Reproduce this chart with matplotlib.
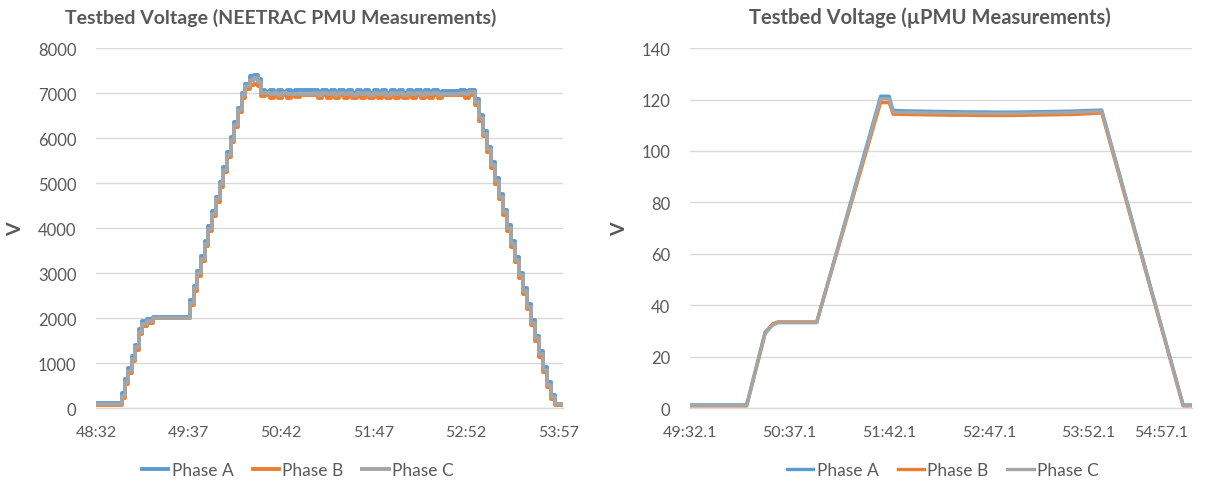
import matplotlib
matplotlib.use('Agg')
from matplotlib import pyplot as plt

plt.rcParams['font.family'] = ['Lato', 'DejaVu Sans']

# NEETRAC PMU: seconds after 48:32, stepped readings
neetrac_t = [0, 18, 20.4, 22.7, 25, 27.4, 30.2, 32.6, 35.6, 40.3,
             66, 68.6, 71.2, 73.8, 76.4, 79, 81.6, 84.2, 86.8, 89.4, 92, 94.6, 97.2, 99.8, 102.4, 105,
             108, 111, 114, 116,
             119, 122, 125, 128, 131, 134, 137, 140, 143,
             153, 156, 159, 162, 165, 168, 171, 174, 177, 180, 183, 186, 189, 192, 195,
             198, 201, 204, 207, 210, 213, 216, 219, 222, 225, 228, 231, 234, 237, 240, 243,
             256, 259, 262,
             266.5, 269.3, 272.1, 274.9, 277.7, 280.5, 283.3, 286.1, 288.9, 291.7, 294.5,
             297.3, 300.1, 302.9, 305.7, 308.5, 311.3, 314.1, 316.9, 319.7, 322.5, 328]
neetrac_c = [90, 270, 580, 830, 1090, 1350, 1700, 1870, 1930, 2000,
             2330, 2660, 2990, 3320, 3650, 3980, 4310, 4640, 4970, 5300, 5630, 5960, 6290, 6620, 6950, 7150,
             7300, 7330, 7250, 7000,
             7000, 6970, 7000, 6960, 7000, 6970, 6990, 6980, 6980,
             7000, 6960, 7000, 6970, 7010, 6960, 7000, 6970, 7000, 6960, 7010, 6970, 7000, 6960, 7000,
             6970, 7010, 6960, 7000, 6970, 7000, 6960, 7010, 6970, 7000, 6960, 7000, 6970, 7000, 6960, 6980,
             7000, 6980, 7020,
             6800, 6450, 6100, 5750, 5400, 5050, 4700, 4350, 4000, 3650, 3300,
             2950, 2600, 2250, 1900, 1550, 1200, 850, 520, 250, 80, 80]
neetrac_a = [110, 330, 640, 890, 1150, 1410, 1760, 1930, 1980, 2030,
             2390, 2720, 3050, 3380, 3710, 4040, 4370, 4700, 5030, 5360, 5690, 6020, 6350, 6680, 7010, 7200,
             7380, 7400, 7320, 7080,
             7020, 7060, 7010, 7060, 7020, 7060, 7030, 7060, 7060,
             7060, 7010, 7060, 7020, 7070, 7010, 7060, 7020, 7060, 7010, 7070, 7020, 7060, 7010, 7060,
             7020, 7070, 7010, 7060, 7020, 7060, 7010, 7070, 7020, 7060, 7010, 7060, 7020, 7060, 7010, 7050,
             7080, 7040, 7080,
             6860, 6510, 6160, 5810, 5460, 5110, 4760, 4410, 4060, 3710, 3360,
             3010, 2660, 2310, 1960, 1610, 1260, 910, 580, 300, 100, 100]
neetrac_b = [70, 230, 530, 780, 1040, 1300, 1650, 1820, 1900, 1990,
             2280, 2610, 2940, 3270, 3600, 3930, 4260, 4590, 4920, 5250, 5580, 5910, 6240, 6570, 6900, 7100,
             7190, 7200, 7150, 6930,
             6960, 6900, 6950, 6900, 6960, 6900, 6950, 6920, 6960,
             6950, 6900, 6960, 6900, 6950, 6900, 6960, 6900, 6950, 6900, 6960, 6900, 6950, 6900, 6960,
             6900, 6950, 6900, 6960, 6900, 6950, 6900, 6960, 6900, 6950, 6900, 6960, 6900, 6950, 6900, 6960,
             6950, 6900, 6950,
             6740, 6390, 6040, 5690, 5340, 4990, 4640, 4290, 3940, 3590, 3240,
             2890, 2540, 2190, 1840, 1490, 1140, 790, 460, 200, 60, 60]
neetrac_ticks = [0, 65, 130, 195, 260, 325]
neetrac_labels = ['48:32', '49:37', '50:42', '51:47', '52:52', '53:57']

# uPMU: seconds after 49:32.1
upmu_t = [0, 37, 49, 54, 57.5, 82.7, 124.4, 130, 132.5, 140, 150, 160, 170, 180, 190,
          200, 210, 220, 230, 240, 250, 258, 264, 268.7, 321.8, 327.6]
upmu_a = [1.2, 1.2, 29.5, 32.5, 33.3, 33.3, 121.3, 121.3, 115.8, 115.6, 115.5, 115.4, 115.3, 115.2, 115.2,
          115.1, 115.1, 115.2, 115.3, 115.4, 115.5, 115.7, 115.8, 115.9, 1.2, 1.2]
upmu_b = [0.8, 0.8, 28.8, 32.8, 33.5, 33.5, 118.8, 118.8, 114.3, 114.2, 114.1, 114.0, 113.9, 113.9, 113.8,
          113.8, 113.8, 113.9, 114.0, 114.1, 114.2, 114.4, 114.6, 114.8, 0.8, 0.8]
upmu_c = [1.0, 1.0, 29.0, 32.3, 33.2, 33.2, 120.3, 120.3, 115.1, 115.0, 114.9, 114.8, 114.7, 114.7, 114.6,
          114.6, 114.6, 114.7, 114.8, 114.9, 115.0, 115.2, 115.4, 115.5, 1.0, 1.0]
upmu_ticks = [0, 65, 130, 195, 260, 325]
upmu_labels = ['49:32.1', '50:37.1', '51:42.1', '52:47.1', '53:52.1', '54:57.1']

phase_names = ['Phase A', 'Phase B', 'Phase C']
colors = ['#5B9BD5', '#ED7D31', '#A5A5A5']
text_color = '#595959'
grid_color = '#D9D9D9'

fig = plt.figure(figsize=(12.13, 4.85), dpi=100)
ax1 = fig.add_axes([0.0791, 0.1567, 0.385, 0.742])
ax2 = fig.add_axes([0.5688, 0.1567, 0.4139, 0.742])


def style(ax, ymax, ystep, ticks, labels, xmax):
    for s in ['top', 'right', 'left']:
        ax.spines[s].set_visible(False)
    ax.spines['bottom'].set_color(grid_color)
    ax.spines['bottom'].set_linewidth(1)
    ax.set_ylim(0, ymax)
    ax.set_yticks(list(range(0, ymax + 1, ystep)))
    ax.set_xlim(0, xmax)
    ax.set_xticks(ticks)
    ax.set_xticklabels(labels)
    ax.grid(axis='y', color=grid_color, linewidth=1)
    ax.set_axisbelow(True)
    ax.tick_params(axis='both', length=0, labelsize=12, labelcolor=text_color)
    ax.tick_params(axis='y', pad=14)
    ax.tick_params(axis='x', pad=12, labelsize=11.5)
    ax.set_ylabel('V', fontsize=14, fontweight='bold', color=text_color, labelpad=10)


for vals, c, name in zip([neetrac_a, neetrac_b, neetrac_c], colors, phase_names):
    ax1.plot(neetrac_t, vals, drawstyle='steps-post', color=c, lw=2.8, label=name)
style(ax1, 8000, 1000, neetrac_ticks, neetrac_labels, 328)

for vals, c, name in zip([upmu_a, upmu_b, upmu_c], colors, phase_names):
    ax2.plot(upmu_t, vals, color=c, lw=2.4, label=name)
style(ax2, 140, 20, upmu_ticks, upmu_labels, 327.6)
# keep the last right-hand tick label inside the figure
ax2.get_xticklabels()[-1].set_horizontalalignment('right')
ax2.get_xticklabels()[-1].set_x(327.6)

fig.text(0.2317, 0.963, 'Testbed Voltage (NEETRAC PMU Measurements)', ha='center', va='center',
         fontsize=14, fontweight='bold', color=text_color)
fig.text(0.7663, 0.963, 'Testbed Voltage (\u00b5PMU Measurements)', ha='center', va='center',
         fontsize=14.5, fontweight='bold', color=text_color)

for ax, xc in [(ax1, 298 / 1213), (ax2, 943 / 1213)]:
    ax.legend(loc='center', bbox_to_anchor=(xc, 0.029), bbox_transform=fig.transFigure, ncol=3,
              frameon=False, fontsize=12.5, labelcolor=text_color, handlelength=1.5,
              handletextpad=0.2, columnspacing=1.1)

fig.savefig('out.png', dpi=100)
